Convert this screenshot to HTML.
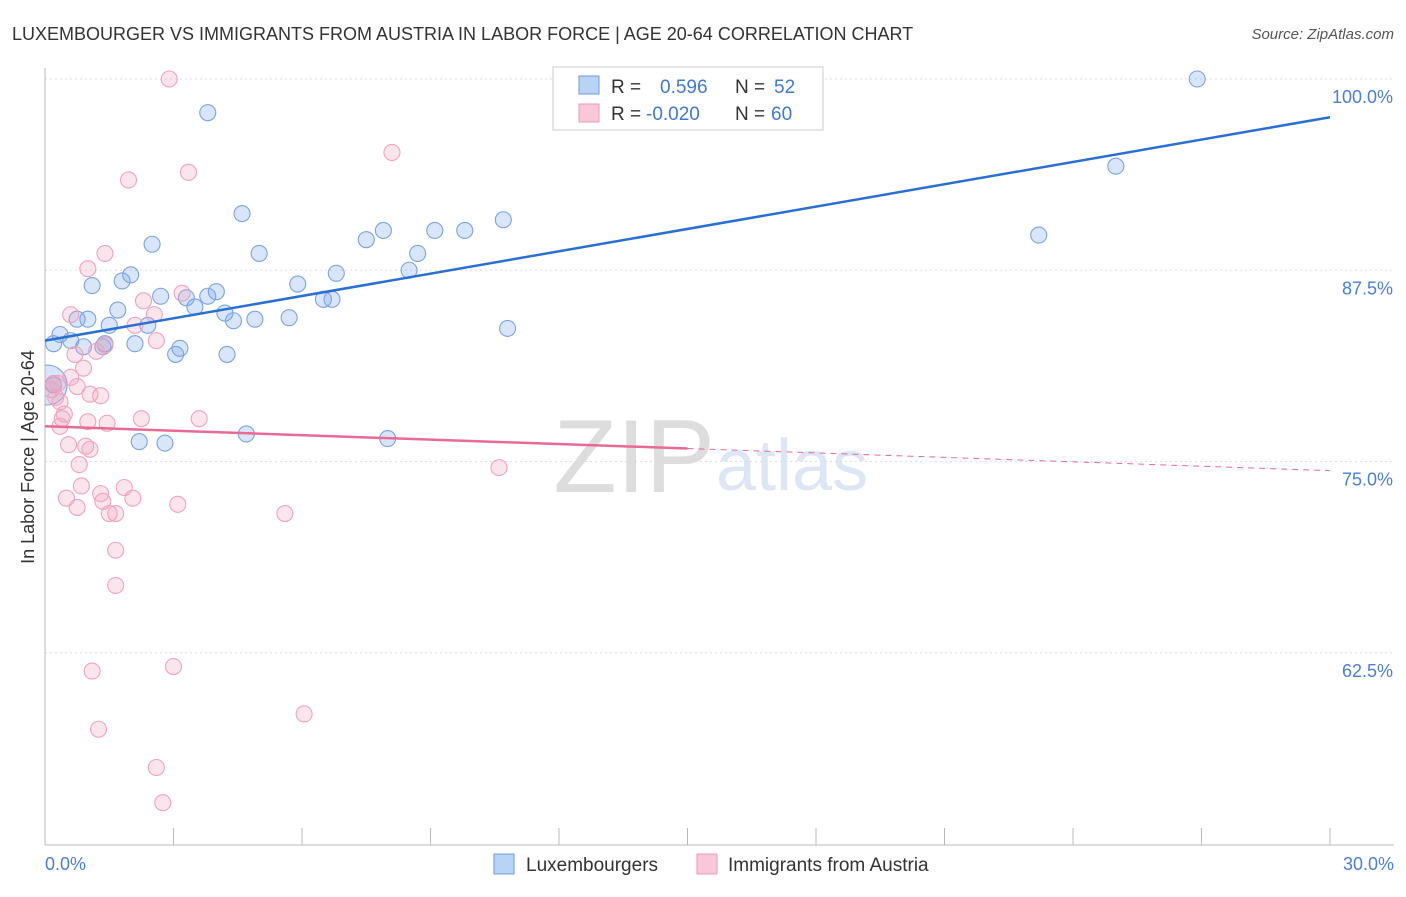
<!DOCTYPE html>
<html><head><meta charset="utf-8"><style>
body{margin:0;background:#fff;font-family:"Liberation Sans",sans-serif}
svg text{font-family:"Liberation Sans",sans-serif}
</style></head><body>
<svg id="c" width="1406" height="892">
<defs><clipPath id="plot"><rect x="45" y="60" width="1360" height="785"/></clipPath></defs>
<text x="12" y="40" font-size="18" fill="#333">LUXEMBOURGER VS IMMIGRANTS FROM AUSTRIA IN LABOR FORCE | AGE 20-64 CORRELATION CHART</text>
<text x="1394" y="39" font-size="15" fill="#555" text-anchor="end" font-style="italic">Source: ZipAtlas.com</text>
<text x="715" y="492" font-size="104" fill="#ddd" text-anchor="end" font-family="Liberation Serif">ZIP</text>
<text x="716" y="490" font-size="72" fill="#dce6f5">atlas</text>
<g id="grid"></g><g id="axes"></g><g id="pts" clip-path="url(#plot)"></g><g id="lines"></g>
<text transform="translate(34,457) rotate(-90)" font-size="18" fill="#333" text-anchor="middle">In Labor Force | Age 20-64</text>
<text x="45" y="870" font-size="18" fill="#4a7fd6">0.0%</text>
<text x="1394" y="870" font-size="18" fill="#4a7fd6" text-anchor="end">30.0%</text>
<g>
<rect x="553" y="67" width="270" height="63" fill="#fff" stroke="#ccc"/>
<rect x="579" y="76" width="20" height="18" fill="#b9d3f5" stroke="#6f9be0"/>
<rect x="579" y="104" width="20" height="18" fill="#f9c7d7" stroke="#ee9ab5"/>
<text x="611" y="93" font-size="19" fill="#333">R =</text><text x="660" y="93" font-size="19" fill="#3f78d6">0.596</text>
<text x="735" y="93" font-size="19" fill="#333">N =</text><text x="774" y="93" font-size="19" fill="#3f78d6">52</text>
<text x="611" y="120" font-size="19" fill="#333">R =</text><text x="646" y="120" font-size="19" fill="#3f78d6">-0.020</text>
<text x="735" y="120" font-size="19" fill="#333">N =</text><text x="771" y="120" font-size="19" fill="#3f78d6">60</text>
</g>
<g><rect x="494" y="854" width="20" height="20" fill="#b9d3f5" stroke="#6f9be0"/><text x="526" y="871" font-size="19" fill="#333">Luxembourgers</text></g>
<g><rect x="697" y="854" width="20" height="20" fill="#f9c7d7" stroke="#ee9ab5"/><text x="728" y="871" font-size="19" fill="#333">Immigrants from Austria</text></g>
</svg>
<script>
const yTicks=[100,87.5,75,62.5];
const yTickLabels=["100.0%","87.5%","75.0%","62.5%"];
const xTicks=[0,3,6,9,12,15,18,21,24,27,30];
const luxX=[26.9,3.8,25.0,4.6,10.7,7.9,9.1,9.8,7.5,2.5,23.2,5.0,8.7,6.8,8.5,2.0,1.1,1.8,5.9,2.7,4.0,3.3,3.8,3.5,1.7,4.2,6.5,6.7,5.7,4.9,4.4,0.75,1.0,1.5,2.4,0.35,0.6,0.2,0.9,2.1,1.35,1.4,3.15,3.05,4.25,10.8,2.2,2.8,4.7,8.0,0.05,0.2];
const luxY=[100.0,97.8,94.3,91.2,90.8,90.1,90.1,90.1,89.5,89.2,89.8,88.6,88.6,87.3,87.5,87.2,86.5,86.8,86.6,85.8,86.1,85.7,85.8,85.1,84.9,84.7,85.6,85.6,84.4,84.3,84.2,84.3,84.3,83.9,83.9,83.3,82.9,82.7,82.5,82.7,82.5,82.7,82.4,82.0,82.0,83.7,76.3,76.2,76.8,76.5,80.0,80.0];
const ausX=[2.9,8.1,1.95,3.35,1.4,1.0,3.2,2.3,0.6,2.55,2.1,2.6,1.4,1.2,0.7,0.9,0.2,0.3,0.15,0.6,0.75,1.3,1.05,0.25,0.35,0.45,0.4,1.0,1.45,2.25,3.6,0.35,0.55,0.95,1.05,0.8,10.6,0.85,1.85,0.5,1.3,1.35,2.05,3.1,0.75,1.5,1.65,5.6,1.65,1.65,1.1,3.0,6.05,1.25,2.6,2.75];
const ausY=[100,95.2,93.4,93.9,88.6,87.6,86.0,85.5,84.6,84.6,83.9,82.9,82.6,82.2,82.0,81.1,80.1,80.1,79.7,80.5,79.9,79.3,79.4,79.2,78.9,78.1,77.8,77.6,77.5,77.8,77.8,77.3,76.1,76.0,75.8,74.8,74.6,73.4,73.3,72.6,72.9,72.4,72.6,72.2,72.0,71.6,71.6,71.6,69.2,66.9,61.3,61.6,58.5,57.5,55.0,52.7];
const luxTrend=[82.9,97.5];
const ausTrend=[77.3,74.4];
const NS='http://www.w3.org/2000/svg';
const X=v=>45+v*(1285/30), Y=v=>79+(100-v)*15.3;
function mk(t,a,p){const e=document.createElementNS(NS,t);for(const k in a)e.setAttribute(k,a[k]);document.getElementById(p).appendChild(e);return e;}
yTicks.forEach((t,i)=>{
 const g=mk('line',{x1:45,x2:1394,y1:Y(t),y2:Y(t),stroke:'#ddd','stroke-dasharray':'2,3'},'grid');
 
 
 const l=mk('text',{x:1393,y:Y(t)+24,'font-size':18,fill:'#4a7fd6','text-anchor':'end'},'grid');
 l.textContent=yTickLabels[i];
 
 
});
const ax=mk('line',{x1:45,x2:45,y1:68,y2:845,stroke:'#bbb'},'axes');


const bx=mk('line',{x1:45,x2:1394,y1:845,y2:845,stroke:'#bbb'},'axes');


xTicks.forEach(t=>{
 const k=mk('line',{x1:X(t),x2:X(t),y1:828,y2:845,stroke:'#bbb'},'axes');
 
 
});
luxX.forEach((x,i)=>{
 const r=(i===50)?20:8;
 const c=mk('circle',{cx:X(x),cy:Y(luxY[i]),r:r,fill:'rgba(120,165,235,0.28)',stroke:'#7aa3e3','stroke-width':1.1},'pts');
 
 
});
ausX.forEach((x,i)=>{
 const c=mk('circle',{cx:X(x),cy:Y(ausY[i]),r:8,fill:'rgba(242,160,188,0.28)',stroke:'#f0a3bd','stroke-width':1.1},'pts');
 
 
});
const bl=mk('line',{x1:X(0),y1:Y(luxTrend[0]),x2:X(30),y2:Y(luxTrend[1]),stroke:'#2a6fd6','stroke-width':2.5},'lines');


const pm=ausTrend[0]+(ausTrend[1]-ausTrend[0])*0.5;
const pl=mk('line',{x1:X(0),y1:Y(ausTrend[0]),x2:X(15),y2:Y(pm),stroke:'#e86a96','stroke-width':2.5},'lines');


const pd=mk('line',{x1:X(15),y1:Y(pm),x2:X(30),y2:Y(ausTrend[1]),stroke:'#e86a96','stroke-width':1,'stroke-dasharray':'6,5'},'lines');


</script>
</body></html>
